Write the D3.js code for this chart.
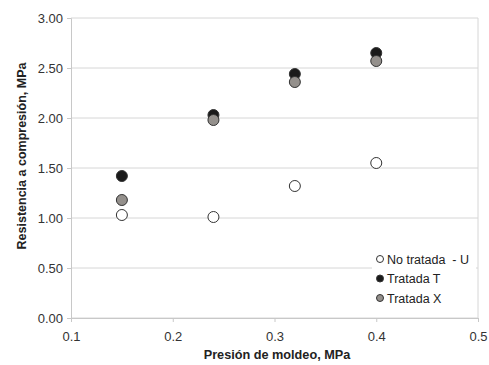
<!DOCTYPE html>
<html>
<head>
<meta charset="utf-8">
<script src="https://cdn.jsdelivr.net/npm/d3@7"></script>
<style>
  body { margin: 0; background: #fff; }
  text { font-family: "Liberation Sans", Arial, sans-serif; }
</style>
</head>
<body>
<svg id="chart"></svg>
<script>
// Data
const presion = [0.15, 0.24, 0.32, 0.40];
const noTratadaU = [1.03, 1.01, 1.32, 1.55];
const tratadaT = [1.42, 2.03, 2.44, 2.65];
const tratadaX = [1.18, 1.98, 2.36, 2.57];
const xTicks = [0.1, 0.2, 0.3, 0.4, 0.5];
const yTicks = [0, 0.5, 1, 1.5, 2, 2.5, 3];

const width = 489;
const height = 365;
const margin = { top: 18, right: 11, bottom: 47, left: 71 };

const svg = d3.select('#chart')
  .attr('width', width)
  .attr('height', height);

const x = d3.scaleLinear().domain([0.1, 0.5]).range([margin.left, width - margin.right]);
const y = d3.scaleLinear().domain([0, 3]).range([height - margin.bottom, margin.top]);

// Horizontal gridlines
svg.append('g')
  .selectAll('line')
  .data(yTicks)
  .join('line')
  .attr('x1', margin.left)
  .attr('x2', width - margin.right)
  .attr('y1', d => y(d))
  .attr('y2', d => y(d))
  .attr('stroke', '#d6d6d6')
  .attr('stroke-width', 1);

// Right border
svg.append('line')
  .attr('x1', width - margin.right)
  .attr('x2', width - margin.right)
  .attr('y1', y(3))
  .attr('y2', y(0))
  .attr('stroke', '#d6d6d6');

// Y axis
const yAxis = svg.append('g')
  .attr('transform', `translate(${margin.left},0)`)
  .call(d3.axisLeft(y).tickValues(yTicks).tickFormat(d3.format('.2f')).tickSize(4).tickPadding(4));
yAxis.select('.domain').attr('stroke', '#c8c8c8');
yAxis.selectAll('.tick line').attr('stroke', '#c8c8c8');
yAxis.selectAll('text').attr('fill', '#333').style('font-size', '13px');

// X axis
const xAxis = svg.append('g')
  .attr('transform', `translate(0,${y(0)})`)
  .call(d3.axisBottom(x).tickValues(xTicks).tickFormat(d3.format('.1f')).tickSize(4).tickPadding(10));
xAxis.select('.domain').attr('stroke', '#c8c8c8');
xAxis.selectAll('.tick line').attr('stroke', '#c8c8c8');
xAxis.selectAll('text').attr('fill', '#333').style('font-size', '13px');

// Axis titles
svg.append('text')
  .attr('x', 277)
  .attr('y', 359)
  .attr('text-anchor', 'middle')
  .attr('fill', '#222')
  .style('font-size', '12.7px')
  .style('font-weight', 'bold')
  .text('Presión de moldeo, MPa');

svg.append('text')
  .attr('transform', `translate(26,156) rotate(-90)`)
  .attr('text-anchor', 'middle')
  .attr('fill', '#222')
  .style('font-size', '12.5px')
  .style('font-weight', 'bold')
  .text('Resistencia a compresión, MPa');

// Series
const series = [
  { name: 'No tratada  - U', values: noTratadaU, fill: '#ffffff' },
  { name: 'Tratada T', values: tratadaT, fill: '#1a1a1a' },
  { name: 'Tratada X', values: tratadaX, fill: '#94908c' }
];

// Legend background
const legend = svg.append('g').attr('transform', 'translate(372,250)');
legend.append('rect')
  .attr('x', 0)
  .attr('y', 0)
  .attr('width', 104)
  .attr('height', 60)
  .attr('fill', '#fff');

// Draw points, gray last so it sits over the black ones
series.forEach(s => {
  svg.append('g')
    .selectAll('circle')
    .data(s.values)
    .join('circle')
    .attr('cx', (d, i) => x(presion[i]))
    .attr('cy', d => y(d))
    .attr('r', 5.5)
    .attr('fill', s.fill)
    .attr('stroke', '#333')
    .attr('stroke-width', 1);
});

series.forEach((s, i) => {
  const row = legend.append('g').attr('transform', `translate(8,${9 + i * 19.5})`);
  row.append('circle')
    .attr('r', 3.5)
    .attr('fill', s.fill)
    .attr('stroke', '#333')
    .attr('stroke-width', 1);
  row.append('text')
    .attr('x', 7)
    .attr('y', 4.5)
    .attr('fill', '#222')
    .style('font-size', '12.5px')
    .style('white-space', 'pre')
    .attr('xml:space', 'preserve')
    .text(s.name);
});
</script>
</body>
</html>
